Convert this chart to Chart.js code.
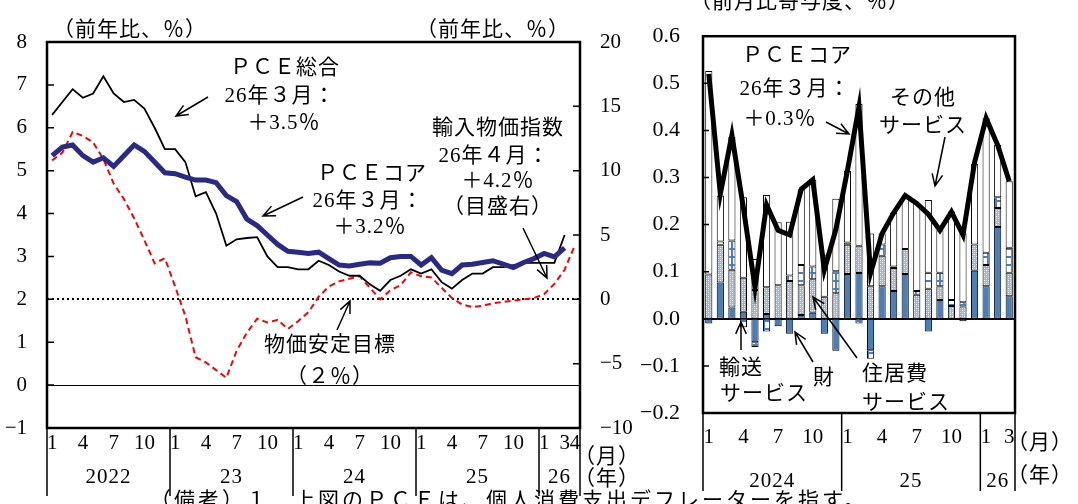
<!DOCTYPE html>
<html>
<head>
<meta charset="utf-8">
<script src="https://cdn.jsdelivr.net/npm/chart.js@4.4.1/dist/chart.umd.min.js"></script>
<style>
body{margin:0;background:#fff;}
#wrap{position:relative;width:1078px;height:504px;overflow:hidden;background:#fff;
  font-family:"Liberation Serif","Noto Sans CJK JP",serif;color:#000;}
canvas{position:absolute;top:0;}
#c1{left:0;width:650px;height:504px;}
#c2{left:600px;width:478px;height:504px;}
.t{position:absolute;font-size:21px;line-height:1;white-space:nowrap;letter-spacing:1px;transform:translate(-50%,-50%);}
.nota{position:absolute;left:150px;top:490px;font-size:21px;line-height:1;white-space:nowrap;letter-spacing:3px;}
</style>
</head>
<body>
<div id="wrap">
<canvas id="c1" width="650" height="504"></canvas>
<canvas id="c2" width="478" height="504"></canvas>
<div class="nota">（備考）１．上図のＰＣＥは、個人消費支出デフレーターを指す。</div>
</div>
<script>
// ---- datos panel izquierdo (前年比、%) : 2022/1 - 2026/4
var aniosIzq = [2022, 2023, 2024, 2025, 2026];
var nombresAnioIzq = ['2022', '23', '24', '25', '26'];
var pceTotal = [6.3,6.6,6.9,6.7,6.8,7.2,6.8,6.6,6.65,6.45,6.0,5.5,
                5.5,5.2,4.4,4.5,4.0,3.25,3.4,3.43,3.45,3.0,2.75,2.75,
                2.7,2.7,2.9,2.8,2.65,2.55,2.55,2.35,2.2,2.45,2.55,2.7,
                2.6,2.7,2.4,2.25,2.45,2.6,2.6,2.75,2.75,2.8,2.85,2.85,
                2.85,2.85,3.5,null];
var pceCore = [5.35,5.55,5.6,5.35,5.2,5.3,5.1,5.35,5.6,5.45,5.2,4.95,
               4.93,4.85,4.78,4.78,4.72,4.42,4.28,3.87,3.72,3.5,3.28,3.12,
               3.1,3.07,3.1,2.95,2.8,2.78,2.82,2.85,2.84,2.97,3.0,3.0,
               2.8,2.97,2.68,2.6,2.8,2.82,2.86,2.9,2.82,2.74,2.86,2.95,
               3.07,2.99,3.2,null];
var importPx = [10.8,11.4,13.0,12.7,12.2,10.9,9.0,7.8,6.3,4.6,2.8,3.2,
                1.0,-1.3,-4.5,-4.9,-5.5,-6.1,-4.0,-2.6,-1.5,-1.8,-1.6,-2.3,
                -1.7,-1.0,0.2,1.0,1.4,1.6,1.8,0.9,0.0,0.7,1.1,2.1,
                1.8,1.7,0.9,0.1,-0.4,-0.6,-0.5,-0.3,-0.2,-0.1,0.0,0.1,
                0.4,1.2,2.3,4.2];

// ---- datos panel derecho (前月比寄与度、%) : 2024/1 - 2026/3
var aniosDer = [2024, 2025, 2026];
var nombresAnioDer = ['2024', '25', '26'];
var bienes     = [-0.01,0.077,0.024,0.015,-0.05,0.01,-0.016,-0.032,0.008,0.013,-0.032,-0.068,
                  0.095,0.097,-0.067,0.069,0.059,0.095,0,-0.027,0.04,0,-0.005,0.102,
                  0.069,0.195,0.048];
var vivienda   = [0.094,0.08,0.08,0.072,0.061,0.057,0.071,0.08,0.063,0.071,0.047,0.054,
                  0.062,0.058,0.069,0.065,0.049,0.053,0.051,0.064,0.029,0.027,0.026,0.056,
                  0.045,0.04,0.05];
var transporte = [0,0.007,0.062,-0.018,-0.01,-0.027,0,0.012,0.043,0.027,0,0.047,
                  0.005,-0.01,-0.018,0.024,0.003,0,0.008,0.034,0.029,0.013,0.009,0,
                  0.026,0.023,0.053];
var otros      = [0.432,0.098,0.22,0.171,0.066,0.196,0.134,0.114,0.161,0.184,0.089,0.154,
                  0.152,0.301,0.112,0.023,0.114,0.114,0.186,0.154,0.09,0.188,0.146,0.171,
                  0.286,0.111,0.141];
var coreMensual = [0.52,0.265,0.39,0.235,0.067,0.242,0.188,0.178,0.275,0.295,0.104,0.19,
                   0.315,0.45,0.097,0.181,0.225,0.262,0.245,0.222,0.188,0.227,0.178,0.332,
                   0.426,0.369,0.292];

var fuente = '"Liberation Serif", "Noto Sans CJK JP", serif';

function armarMeses(anios, total){
    var a = [], m = [];
    for (var i = 0; i < total; i++){
        a.push(anios[0] + Math.floor(i / 12));
        m.push(i % 12 + 1);
    }
    return {anios: a, meses: m};
}
var ejeIzq = armarMeses(aniosIzq, pceTotal.length);
var ejeDer = armarMeses(aniosDer, bienes.length);
var etiquetasIzq = ejeIzq.anios.map(function(a, i){ return a + '/' + ejeIzq.meses[i]; });
var etiquetasDer = ejeDer.anios.map(function(a, i){ return a + '/' + ejeDer.meses[i]; });

function menos(v){ return v < 0 ? '−' + Math.abs(v) : '' + v; }

function limitesAnios(chart, anios){
    var x = chart.scales.x, a = chart.chartArea, res = [], ini = 0;
    for (var i = 1; i <= anios.length; i++){
        if (i === anios.length || anios[i] !== anios[i-1]){
            var izq = ini === 0 ? a.left : (x.getPixelForValue(ini-1) + x.getPixelForValue(ini)) / 2;
            var der = i === anios.length ? a.right : (x.getPixelForValue(i-1) + x.getPixelForValue(i)) / 2;
            res.push({izq: izq, der: der});
            ini = i;
        }
    }
    return res;
}

function flecha(ctx, x1, y1, x2, y2){
    var ang = Math.atan2(y2 - y1, x2 - x1), L = 13, ab = 0.42;
    ctx.beginPath();
    ctx.moveTo(x1, y1); ctx.lineTo(x2, y2);
    ctx.moveTo(x2 - L * Math.cos(ang - ab), y2 - L * Math.sin(ang - ab));
    ctx.lineTo(x2, y2);
    ctx.lineTo(x2 - L * Math.cos(ang + ab), y2 - L * Math.sin(ang + ab));
    ctx.stroke();
}

function texto(x, y, s){
    var d = document.createElement('div');
    d.className = 't';
    d.style.left = x + 'px';
    d.style.top = y + 'px';
    d.textContent = s;
    document.getElementById('wrap').appendChild(d);
}

// arrows (page coordinates)
var flechasIzq = [[208,97,176,116],[303,197,263,216],[523,228,547,278],[337,330,350,301]];
var flechasDer = [[826,122,849,134],[945,137,935,186],[741,350,741,322],[813,362,795,332],[857,358,813,297]];

var marcoIzq = {
    id: 'marcoIzq',
    beforeDatasetsDraw: function(chart){
        var ctx = chart.ctx, a = chart.chartArea, y = chart.scales.y;
        ctx.save();
        ctx.strokeStyle = '#000';
        ctx.lineWidth = 1;
        var y0 = Math.round(y.getPixelForValue(0)) + 0.5;
        ctx.beginPath(); ctx.moveTo(a.left, y0); ctx.lineTo(a.right, y0); ctx.stroke();
        ctx.lineWidth = 2;
        ctx.setLineDash([2, 3]);
        var y2 = Math.round(y.getPixelForValue(2));
        ctx.beginPath(); ctx.moveTo(a.left, y2); ctx.lineTo(a.right, y2); ctx.stroke();
        ctx.restore();
    },
    afterDraw: function(chart){
        var ctx = chart.ctx, a = chart.chartArea, y = chart.scales.y, y2 = chart.scales.y2;
        ctx.save();
        ctx.strokeStyle = '#000';
        ctx.lineWidth = 2.5;
        ctx.strokeRect(a.left, a.top, a.right - a.left, a.bottom - a.top);
        ctx.lineWidth = 1.5;
        ctx.beginPath();
        for (var v = -1; v <= 8; v++){
            var p = y.getPixelForValue(v);
            ctx.moveTo(a.left, p); ctx.lineTo(a.left + 7, p);
        }
        for (var w = -10; w <= 20; w += 5){
            var q = y2.getPixelForValue(w);
            ctx.moveTo(a.right, q); ctx.lineTo(a.right - 7, q);
        }
        ctx.stroke();
        ctx.lineWidth = 1.5;
        ctx.beginPath();
        limitesAnios(chart, ejeIzq.anios).forEach(function(b){
            ctx.moveTo(b.izq, a.bottom); ctx.lineTo(b.izq, 496);
            ctx.moveTo(b.der, a.bottom); ctx.lineTo(b.der, 496);
        });
        ctx.stroke();
        ctx.lineWidth = 1.5;
        flechasIzq.forEach(function(f){ flecha(ctx, f[0], f[1], f[2], f[3]); });
        ctx.restore();
    }
};

var marcoDer = {
    id: 'marcoDer',
    beforeDatasetsDraw: function(chart){
        var ctx = chart.ctx, a = chart.chartArea, y = chart.scales.y;
        ctx.save();
        ctx.strokeStyle = '#000';
        ctx.lineWidth = 2;
        var y0 = Math.round(y.getPixelForValue(0));
        ctx.beginPath(); ctx.moveTo(a.left, y0); ctx.lineTo(a.right, y0); ctx.stroke();
        ctx.restore();
    },
    afterDraw: function(chart){
        var ctx = chart.ctx, a = chart.chartArea, y = chart.scales.y;
        ctx.save();
        ctx.strokeStyle = '#000';
        ctx.lineWidth = 2.5;
        ctx.strokeRect(a.left, a.top, a.right - a.left, a.bottom - a.top);
        ctx.lineWidth = 1.5;
        ctx.beginPath();
        for (var k = -2; k <= 6; k++){
            var p = y.getPixelForValue(k / 10);
            ctx.moveTo(a.left, p); ctx.lineTo(a.left + 6, p);
        }
        limitesAnios(chart, ejeDer.anios).forEach(function(b){
            ctx.moveTo(b.izq, a.bottom); ctx.lineTo(b.izq, 491);
            ctx.moveTo(b.der, a.bottom); ctx.lineTo(b.der, 491);
        });
        ctx.stroke();
        ctx.lineWidth = 1.5;
        flechasDer.forEach(function(f){ flecha(ctx, f[0] - 600, f[1], f[2] - 600, f[3]); });
        ctx.restore();
    }
};

function patronPuntos(){
    var c = document.createElement('canvas'); c.width = 4; c.height = 4;
    var g = c.getContext('2d');
    g.fillStyle = '#93b7e4'; g.fillRect(0, 0, 4, 4);
    g.fillStyle = '#ffffff'; g.fillRect(0, 0, 1, 1); g.fillRect(2, 2, 1, 1);
    g.fillStyle = '#c9dbf2'; g.fillRect(2, 0, 1, 1); g.fillRect(0, 2, 1, 1);
    return g.createPattern(c, 'repeat');
}
function patronRejilla(){
    var c = document.createElement('canvas'); c.width = 8; c.height = 8;
    var g = c.getContext('2d');
    g.fillStyle = '#ffffff'; g.fillRect(0, 0, 8, 8);
    g.fillStyle = '#3f7fd0'; g.fillRect(0, 0, 8, 2); g.fillRect(3, 0, 2, 8);
    return g.createPattern(c, 'repeat');
}

var fuenteTicks = {family: fuente, size: 21};

var grafIzq = new Chart(document.getElementById('c1').getContext('2d'), {
    type: 'line',
    data: {
        labels: etiquetasIzq,
        datasets: [
            {label: 'PCE総合', data: pceTotal, borderColor: '#000000', borderWidth: 1.8, yAxisID: 'y', order: 1},
            {label: 'PCEコア', data: pceCore, borderColor: '#2a2a86', borderWidth: 5, yAxisID: 'y', order: 0},
            {label: '輸入物価指数', data: importPx, borderColor: '#ff0000', borderWidth: 2, borderDash: [6, 4], yAxisID: 'y2', order: 2}
        ]
    },
    options: {
        responsive: false, animation: false, devicePixelRatio: 1,
        layout: {padding: {top: 42, left: 0, right: 0, bottom: 0}},
        elements: {point: {radius: 0}, line: {tension: 0, fill: false}},
        plugins: {legend: {display: false}, tooltip: {enabled: false}},
        scales: {
            x: {
                offset: true,
                grid: {display: false, drawTicks: false}, border: {display: false},
                ticks: {
                    autoSkip: false, maxRotation: 0, minRotation: 0, padding: 3,
                    font: fuenteTicks, color: '#000',
                    callback: function(v, i){
                        var m = ejeIzq.meses[i], a = ejeIzq.anios[i];
                        if (a === 2026) return (m === 1 || m === 3 || m === 4) ? '' + m : '';
                        return (m % 3 === 1) ? '' + m : '';
                    }
                },
                afterFit: function(s){ s.height = 76; }
            },
            y: {
                position: 'left', min: -1, max: 8,
                grid: {display: false, drawTicks: false}, border: {display: false},
                ticks: {stepSize: 1, padding: 20, font: fuenteTicks, color: '#000', callback: menos},
                afterFit: function(s){ s.width = 47; }
            },
            y2: {
                position: 'right', min: -10, max: 20,
                grid: {display: false, drawTicks: false}, border: {display: false},
                ticks: {stepSize: 5, padding: 20, font: fuenteTicks, color: '#000', callback: menos},
                afterFit: function(s){ s.width = 70; }
            }
        }
    },
    plugins: [marcoIzq]
});

var ctx2 = document.getElementById('c2').getContext('2d');
var grafDer = new Chart(ctx2, {
    type: 'bar',
    data: {
        labels: etiquetasDer,
        datasets: [
            {label: '財', data: bienes, backgroundColor: '#4a7ebb', order: 2},
            {label: '住居費サービス', data: vivienda, backgroundColor: patronPuntos(), order: 2},
            {label: '輸送サービス', data: transporte, backgroundColor: patronRejilla(), order: 2},
            {label: 'その他サービス', data: otros, backgroundColor: '#ffffff', order: 2},
            {type: 'line', label: 'PCEコア', data: coreMensual, borderColor: '#000000', borderWidth: 5,
             pointRadius: 0, tension: 0, fill: false, stack: 'linea', order: 0, borderJoinStyle: 'miter'}
        ]
    },
    options: {
        responsive: false, animation: false, devicePixelRatio: 1,
        layout: {padding: {top: 15, left: 0, right: 63, bottom: 0}},
        datasets: {bar: {borderColor: '#000', borderWidth: 1, borderSkipped: false, barPercentage: 0.62, categoryPercentage: 1}},
        plugins: {legend: {display: false}, tooltip: {enabled: false}},
        scales: {
            x: {
                stacked: true, offset: true,
                grid: {display: false, drawTicks: false}, border: {display: false},
                ticks: {
                    autoSkip: false, maxRotation: 0, minRotation: 0, padding: 12,
                    font: fuenteTicks, color: '#000',
                    callback: function(v, i){
                        var m = ejeDer.meses[i], a = ejeDer.anios[i];
                        if (a === 2026) return (m === 1 || m === 3) ? '' + m : '';
                        return (m % 3 === 1) ? '' + m : '';
                    }
                },
                afterFit: function(s){ s.height = 91; }
            },
            y: {
                stacked: true, min: -0.2, max: 0.6,
                grid: {display: false, drawTicks: false}, border: {display: false},
                ticks: {stepSize: 0.1, padding: 23, font: {family: fuente, size: 22}, color: '#000',
                        callback: function(v){ var s = Math.abs(v).toFixed(1); return v < -0.001 ? '−' + s : s; }},
                afterFit: function(s){ s.width = 103; }
            }
        }
    },
    plugins: [marcoDer]
});

// year labels under the month ticks
limitesAnios(grafIzq, ejeIzq.anios).forEach(function(b, i){
    texto((b.izq + b.der) / 2, 476, nombresAnioIzq[i]);
});
limitesAnios(grafDer, ejeDer.anios).forEach(function(b, i){
    texto(600 + (b.izq + b.der) / 2, 480, nombresAnioDer[i]);
});

// annotations
texto(130, 29, '（前年比、％）');
texto(493, 29, '（前年比、％）');
texto(285, 67, 'ＰＣＥ総合');
texto(280, 95, '26年３月：');
texto(284, 122, '＋3.5％');
texto(372, 173, 'ＰＣＥコア');
texto(368, 200, '26年３月：');
texto(370, 226, '＋3.2％');
texto(498, 127, '輸入物価指数');
texto(494, 155, '26年４月：');
texto(498, 180, '＋4.2％');
texto(498, 206, '（目盛右）');
texto(330, 344, '物価安定目標');
texto(330, 376, '（２％）');
texto(607, 456, '（月）');
texto(607, 478, '（年）');
texto(800, 1, '（前月比寄与度、％）');
texto(797, 55, 'ＰＣＥコア');
texto(795, 88, '26年３月：');
texto(780, 118, '＋0.3％');
texto(923, 97, 'その他');
texto(923, 125, 'サービス');
texto(741, 367, '輸送');
texto(764, 393, 'サービス');
texto(824, 377, '財');
texto(895, 373, '住居費');
texto(906, 402, 'サービス');
texto(1040, 442, '（月）');
texto(1040, 475, '（年）');
</script>
</body>
</html>
